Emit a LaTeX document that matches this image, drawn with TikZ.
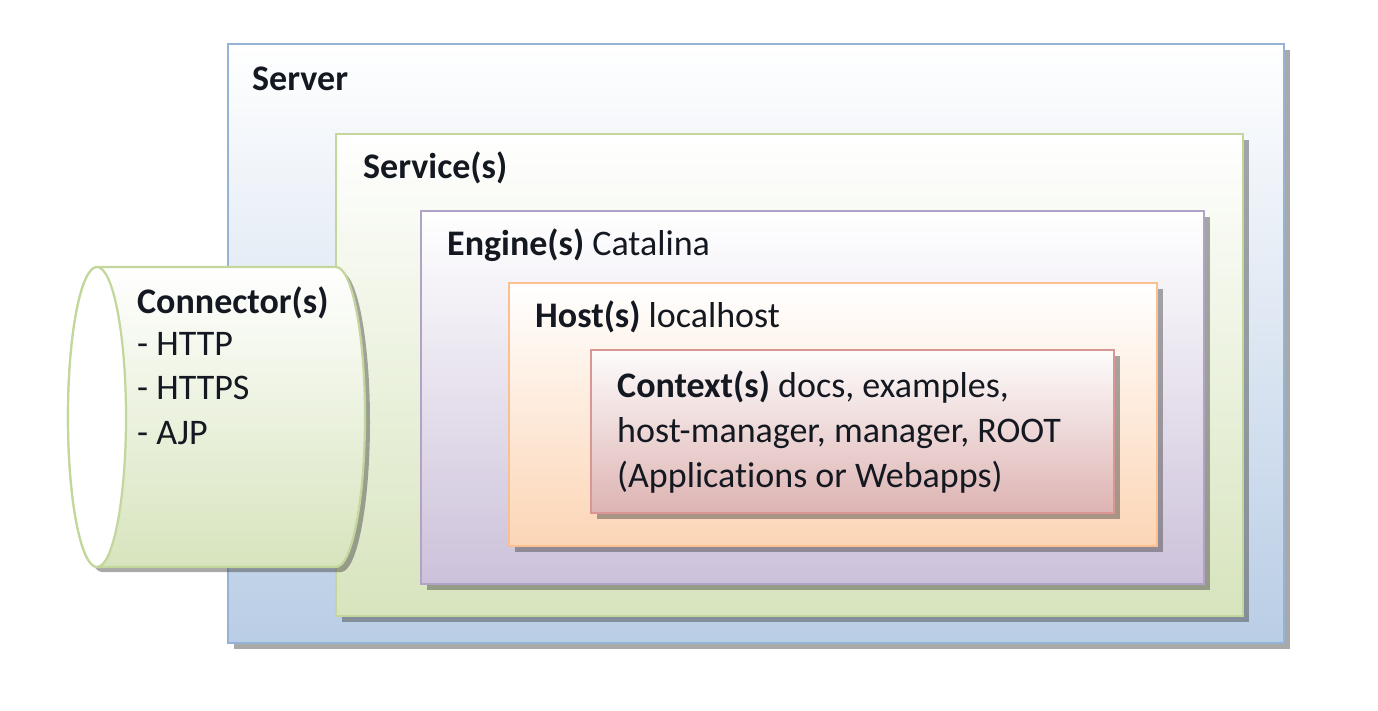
\documentclass[tikz,border=0pt]{standalone}
\usepackage{fontspec}
\setmainfont{Carlito}[Ligatures=NoCommon]
\usetikzlibrary{shadows}
\definecolor{srvB}{HTML}{95B3D7}
\definecolor{srvF}{HTML}{B9CDE5}
\definecolor{svcB}{HTML}{C3D69B}
\definecolor{svcF}{HTML}{D7E4BD}
\definecolor{engB}{HTML}{B3A2C7}
\definecolor{engF}{HTML}{CCC1DA}
\definecolor{hstB}{HTML}{FAC090}
\definecolor{hstF}{HTML}{FCD5B5}
\definecolor{ctxB}{HTML}{D99694}
\definecolor{ctxF}{HTML}{DDB3B2}
\definecolor{txt}{HTML}{141820}
\tikzset{
  layer/.style={draw=#1, line width=2.2pt, inner sep=0pt, anchor=north west,
    drop shadow={shadow xshift=6pt, shadow yshift=-6pt, opacity=0.45, fill=black!75}},
  lbl/.style={anchor=base west, inner sep=0pt, text=txt,
    font=\fontsize{36}{45}\selectfont},
}
\begin{document}
\begin{tikzpicture}[x=1pt,y=1pt]
\useasboundingbox (0,0) rectangle (1378,-710);
% nested layers
\node[layer=srvB, top color=white, bottom color=srvF, minimum width=1056pt, minimum height=599pt] (server) at (227,-43) {};
\node[layer=svcB, top color=white, bottom color=svcF, minimum width=907pt, minimum height=482pt] (service) at (335,-133) {};
\node[layer=engB, top color=white, bottom color=engF, minimum width=783pt, minimum height=373pt] (engine) at (420,-210) {};
\node[layer=hstB, top color=white, bottom color=hstF, minimum width=648pt, minimum height=263pt] (host) at (508,-282) {};
\node[layer=ctxB, top color=white!96!ctxF, bottom color=ctxF, minimum width=523pt, minimum height=163pt] (context) at (590,-349) {};
% connector cylinder
\fill[black!75, opacity=0.45, xshift=5pt, yshift=-5pt]
  (97,-267) -- (336,-267) arc[start angle=90, end angle=-90, x radius=29, y radius=150]
  -- (97,-567) arc[start angle=270, end angle=90, x radius=29, y radius=150] -- cycle;
\path[draw=svcB, line width=2.2pt, top color=white, bottom color=svcF]
  (97,-267) -- (336,-267) arc[start angle=90, end angle=-90, x radius=29, y radius=150]
  -- (97,-567) arc[start angle=270, end angle=90, x radius=29, y radius=150] -- cycle;
\filldraw[draw=svcB, line width=2.2pt, fill=white] (97,-417) ellipse[x radius=29, y radius=150];
% labels
\node[lbl] (tServer) at (252,-90) {\textbf{Server}};
\node[lbl] (tService) at (363,-178) {\textbf{Service(s)}};
\node[lbl] (tEngine) at (447,-255) {\textbf{Engine(s)} Catalina};
\node[lbl] (tHost) at (535,-327) {\textbf{Host(s)} localhost};
\node[lbl] (tCtx1) at (617,-397) {\textbf{Context(s)} docs, examples,};
\node[lbl] (tCtx2) at (617,-442) {host-manager, manager, ROOT};
\node[lbl] (tCtx3) at (617,-487) {(Applications or Webapps)};
\node[lbl] (tConn) at (137,-313) {\textbf{Connector(s)}};
\node[lbl] (tHttp) at (137,-355) {- HTTP};
\node[lbl] (tHttps) at (137,-399) {- HTTPS};
\node[lbl] (tAjp) at (137,-444) {- AJP};
\end{tikzpicture}
\end{document}
